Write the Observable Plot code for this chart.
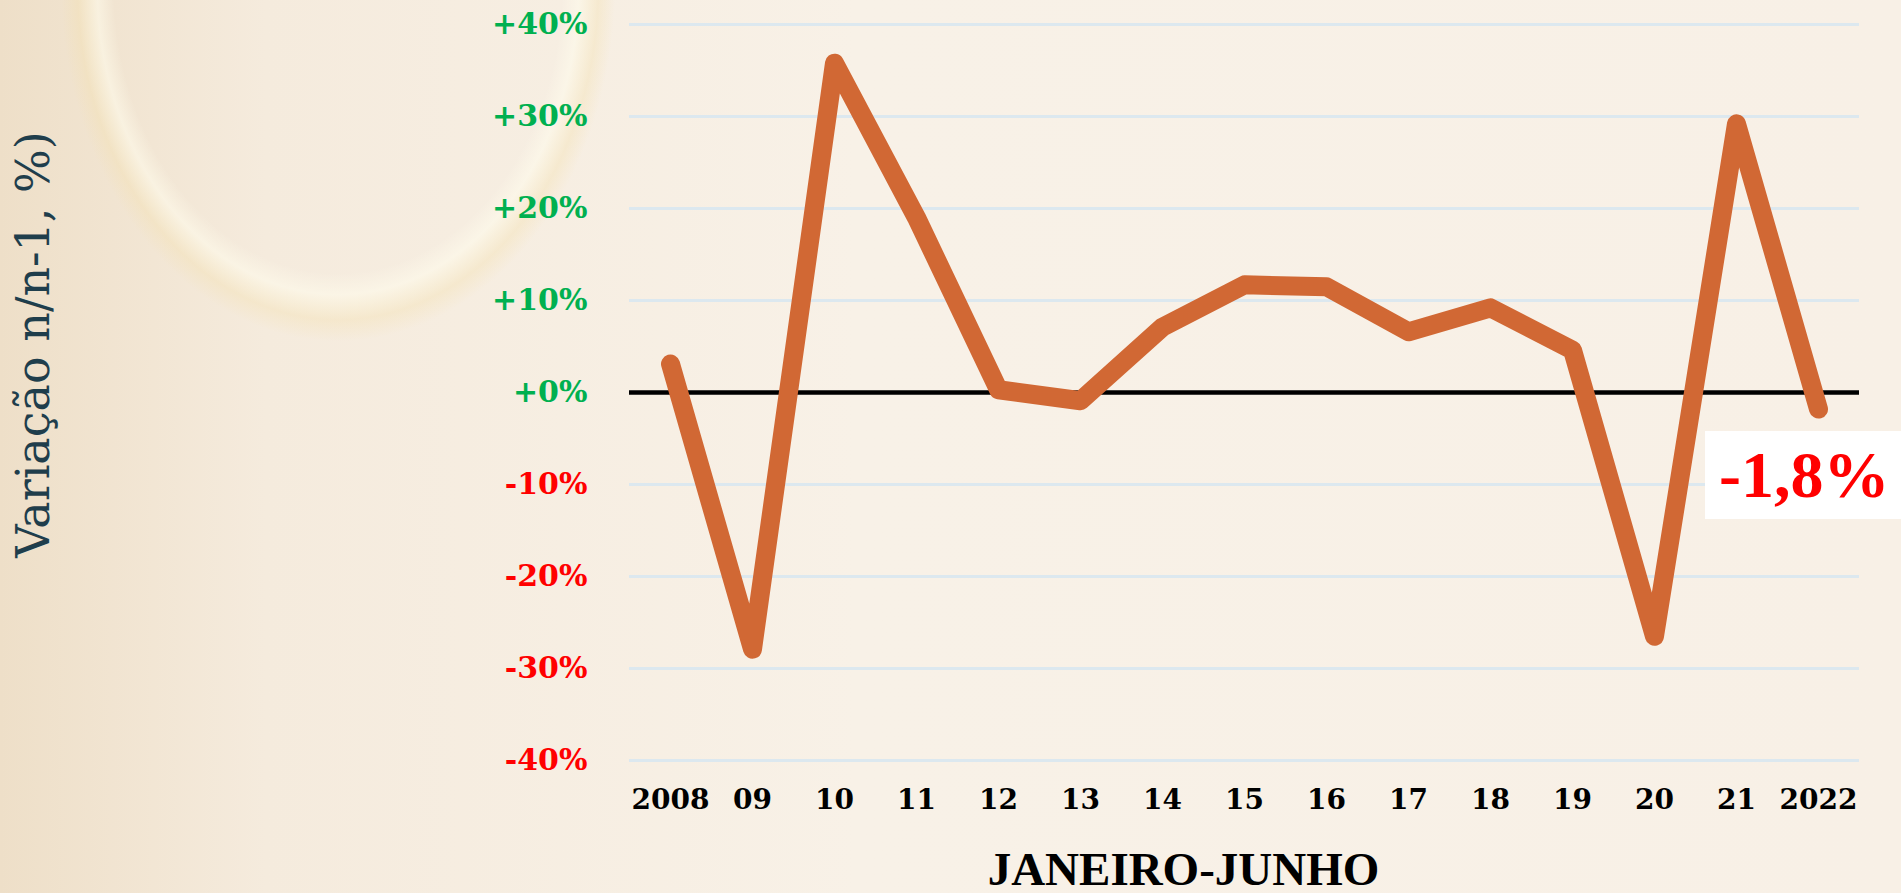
<!DOCTYPE html>
<html>
<head>
<meta charset="utf-8">
<script src="https://cdn.jsdelivr.net/npm/d3@7"></script>
<script src="https://cdn.jsdelivr.net/npm/@observablehq/plot@0.6"></script>
<style>
  html, body { margin: 0; padding: 0; }
  body {
    width: 1901px; height: 893px; overflow: hidden; position: relative;
    background:
      radial-gradient(ellipse 280px 360px at 338px -15px, rgba(0,0,0,0) 80%, rgba(255,252,236,0.55) 86%, rgba(244,224,172,0.35) 93%, rgba(0,0,0,0) 99%),
      linear-gradient(90deg, #EEDFC8 0%, #F5EBDD 14%, #F8F1E7 45%, #F8F0E6 100%);
  }
  #chart { position: absolute; left: 0; top: 0; }
  #note {
    position: absolute; left: 1705px; top: 431px; width: 196px; height: 88px;
    background: #FFFFFF; color: #FF0000;
    font-family: "Liberation Serif", serif; font-weight: bold; font-size: 66px;
    display: flex; align-items: center; padding-left: 14px; box-sizing: border-box;
    white-space: nowrap;
  }
</style>
</head>
<body>
<div id="chart"></div>
<div id="note"></div>
<script>
const years = ["2008","09","10","11","12","13","14","15","16","17","18","19","20","21","2022"];
const values = [3.1, -27.9, 35.8, 19.0, 0.3, -0.9, 7.1, 11.7, 11.5, 6.6, 9.2, 4.6, -26.5, 29.2, -1.8];
const yTicks = [-40, -30, -20, -10, 0, 10, 20, 30, 40];
const yTitle = "Variação n/n-1, %)";
const xTitle = "JANEIRO-JUNHO";

const data = years.map((year, i) => ({year, value: values[i]}));
const fmt = d => (d >= 0 ? "+" : "") + d + "%";

const chart = Plot.plot({
  width: 1901,
  height: 893,
  marginLeft: 629,
  marginRight: 42,
  marginTop: 24,
  marginBottom: 133,
  style: {background: "transparent", fontFamily: "DejaVu Serif", overflow: "visible"},
  x: {type: "point", domain: years, padding: 0.5, axis: null, label: null},
  y: {domain: [-40, 40], axis: null, label: null},
  marks: [
    Plot.gridY(yTicks, {stroke: "#DCE8EF", strokeOpacity: 1, strokeWidth: 3}),
    Plot.axisY(yTicks.filter(d => d >= 0), {
      tickSize: 0, tickPadding: 42, tickFormat: fmt, label: null,
      fill: "#00B050", fontSize: 30, fontWeight: "bold", fontFamily: "DejaVu Serif"
    }),
    Plot.axisY(yTicks.filter(d => d < 0), {
      tickSize: 0, tickPadding: 42, tickFormat: fmt, label: null,
      fill: "#FF0000", fontSize: 30, fontWeight: "bold", fontFamily: "DejaVu Serif"
    }),
    Plot.axisX({
      tickSize: 0, tickPadding: 29, label: null,
      fill: "#000000", fontSize: 28, fontWeight: "bold", fontFamily: "DejaVu Serif"
    }),
    Plot.ruleY([0], {stroke: "#000000", strokeWidth: 4.5}),
    Plot.line(data, {
      x: "year", y: "value", stroke: "#D16834", strokeWidth: 19,
      strokeLinecap: "round", strokeLinejoin: "round"
    }),
    Plot.text([yTitle], {
      text: d => d, frameAnchor: "left", dx: -595, dy: -48, rotate: -90,
      textAnchor: "middle", lineAnchor: "middle",
      fontSize: 46, fill: "#1F3E4C", fontFamily: "DejaVu Serif"
    }),
    Plot.text([xTitle], {
      text: d => d, frameAnchor: "bottom", dx: -61, dy: 109,
      textAnchor: "middle", lineAnchor: "middle",
      fontSize: 47, fontWeight: "bold", fill: "#000000", fontFamily: "Liberation Serif"
    })
  ]
});
document.getElementById("chart").appendChild(chart);

const last = data[data.length - 1];
document.getElementById("note").textContent = last.value.toFixed(1).replace(".", ",") + "%";
</script>
</body>
</html>
